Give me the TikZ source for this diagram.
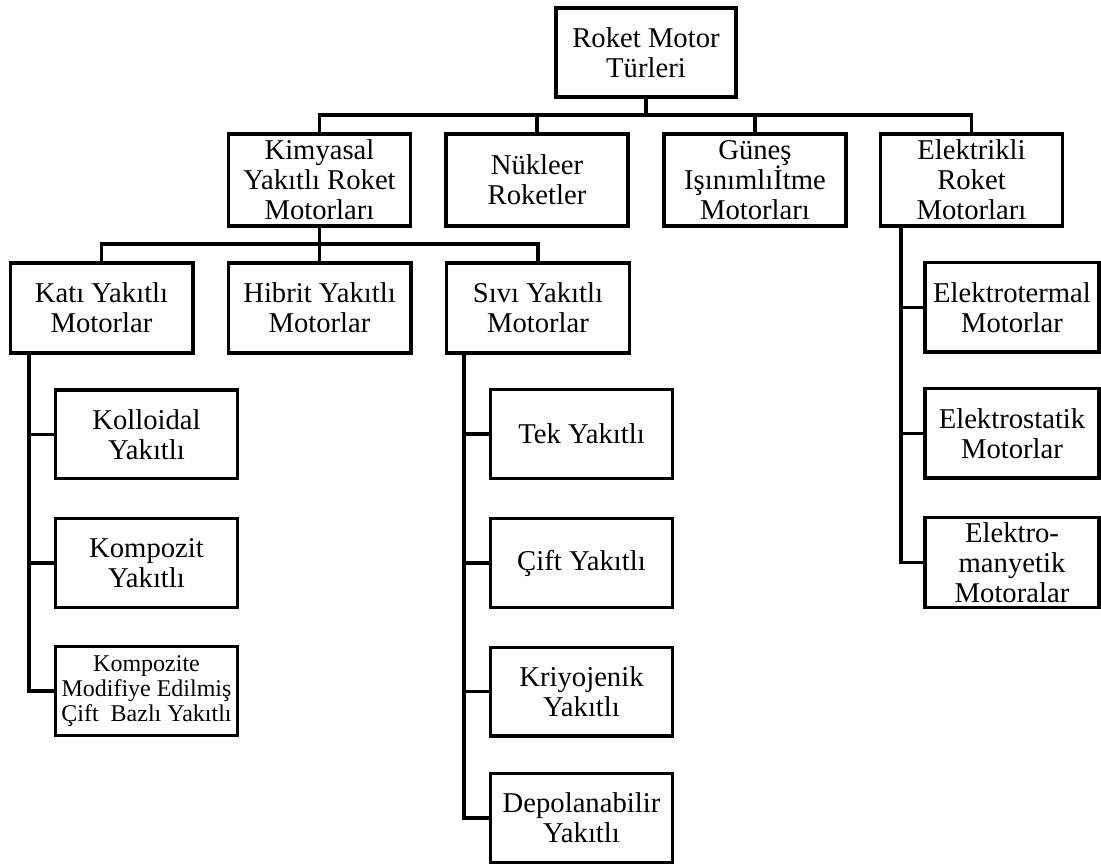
\documentclass[tikz,border=0pt]{standalone}
\usepackage{fontspec}
\setmainfont{Liberation Serif}

\begin{document}
\begin{tikzpicture}[x=0.75pt,y=-0.75pt,
  cell/.style={draw,line width=2.5pt,inner sep=0pt,align=center,font=\fontsize{21.5}{22.5}\selectfont},
  cellA/.style={cell,minimum width=136.5pt,minimum height=69pt},
  cellB/.style={cell,minimum width=137pt,minimum height=67.5pt},
  cellC/.style={cell,minimum width=136.5pt,minimum height=66.5pt},
  cellE/.style={cell,minimum width=130.5pt,minimum height=67pt},
  link/.style={line width=2.3pt}]
  \useasboundingbox (0,0) rectangle (1101,866);
  \node[cell,minimum width=135pt,minimum height=66.75pt] (r0) at (646,52.5) {Roket Motor\\Türleri};
  \node[cellA] (l1) at (319.5,180) {Kimyasal\\Yakıtlı Roket\\Motorları};
  \node[cellA] (l2) at (537,180) {Nükleer\\Roketler};
  \node[cellA] (l3) at (755,180) {Güneş\\Işınımlıİtme\\Motorları};
  \node[cellA] (l4) at (971.5,180) {Elektrikli\\Roket\\Motorları};
  \node[cellB] (k1) at (101.5,308) {Katı Yakıtlı\\Motorlar};
  \node[cellB] (k2) at (319.5,308) {Hibrit Yakıtlı\\Motorlar};
  \node[cellB] (k3) at (538,308) {Sıvı Yakıtlı\\Motorlar};
  \node[cellC] (a1) at (146.5,434.5) {Kolloidal\\Yakıtlı};
  \node[cellC] (a2) at (146.5,563) {Kompozit\\Yakıtlı};
  \node[cellC,font=\fontsize{18}{19}\selectfont] (a3) at (146.5,691) {Kompozite\\Modifiye Edilmiş\\Çift~ Bazlı Yakıtlı};
  \node[cellC] (s1) at (581.5,434) {Tek Yakıtlı};
  \node[cellC] (s2) at (581.5,563) {Çift Yakıtlı};
  \node[cellC] (s3) at (581.5,691.5) {Kriyojenik\\Yakıtlı};
  \node[cellC] (s4) at (581.5,818) {Depolanabilir\\Yakıtlı};
  \node[cellE] (e1) at (1012,307.5) {Elektrotermal\\Motorlar};
  \node[cellE] (e2) at (1012,433.5) {Elektrostatik\\Motorlar};
  \node[cellE] (e3) at (1012,562.5) {Elektro-\\manyetik\\Motoralar};
  \coordinate (b1) at (0,115);
  \coordinate (b2) at (0,244);
  \coordinate (ta) at (29,0);
  \coordinate (ts) at (464,0);
  \coordinate (te) at (901,0);
  \draw[link] (r0.south) -- (r0.south |- b1);
  \draw[link] (l1.north) -- (l1.north |- b1) -- (l4.north |- b1) -- (l4.north);
  \draw[link] (l2.north) -- (l2.north |- b1);
  \draw[link] (l3.north) -- (l3.north |- b1);
  \draw[link] (l1.south) -- (l1.south |- b2);
  \draw[link] (k1.north) -- (k1.north |- b2) -- (k3.north |- b2) -- (k3.north);
  \draw[link] (k2.north) -- (k2.north |- b2);
  \draw[link] (k1.south -| ta) |- (a3.west);
  \draw[link] (a1.west) -- (a1.west -| ta);
  \draw[link] (a2.west) -- (a2.west -| ta);
  \draw[link] (k3.south -| ts) |- (s4.west);
  \draw[link] (s1.west) -- (s1.west -| ts);
  \draw[link] (s2.west) -- (s2.west -| ts);
  \draw[link] (s3.west) -- (s3.west -| ts);
  \draw[link] (l4.south -| te) |- (e3.west);
  \draw[link] (e1.west) -- (e1.west -| te);
  \draw[link] (e2.west) -- (e2.west -| te);
\end{tikzpicture}
\end{document}
